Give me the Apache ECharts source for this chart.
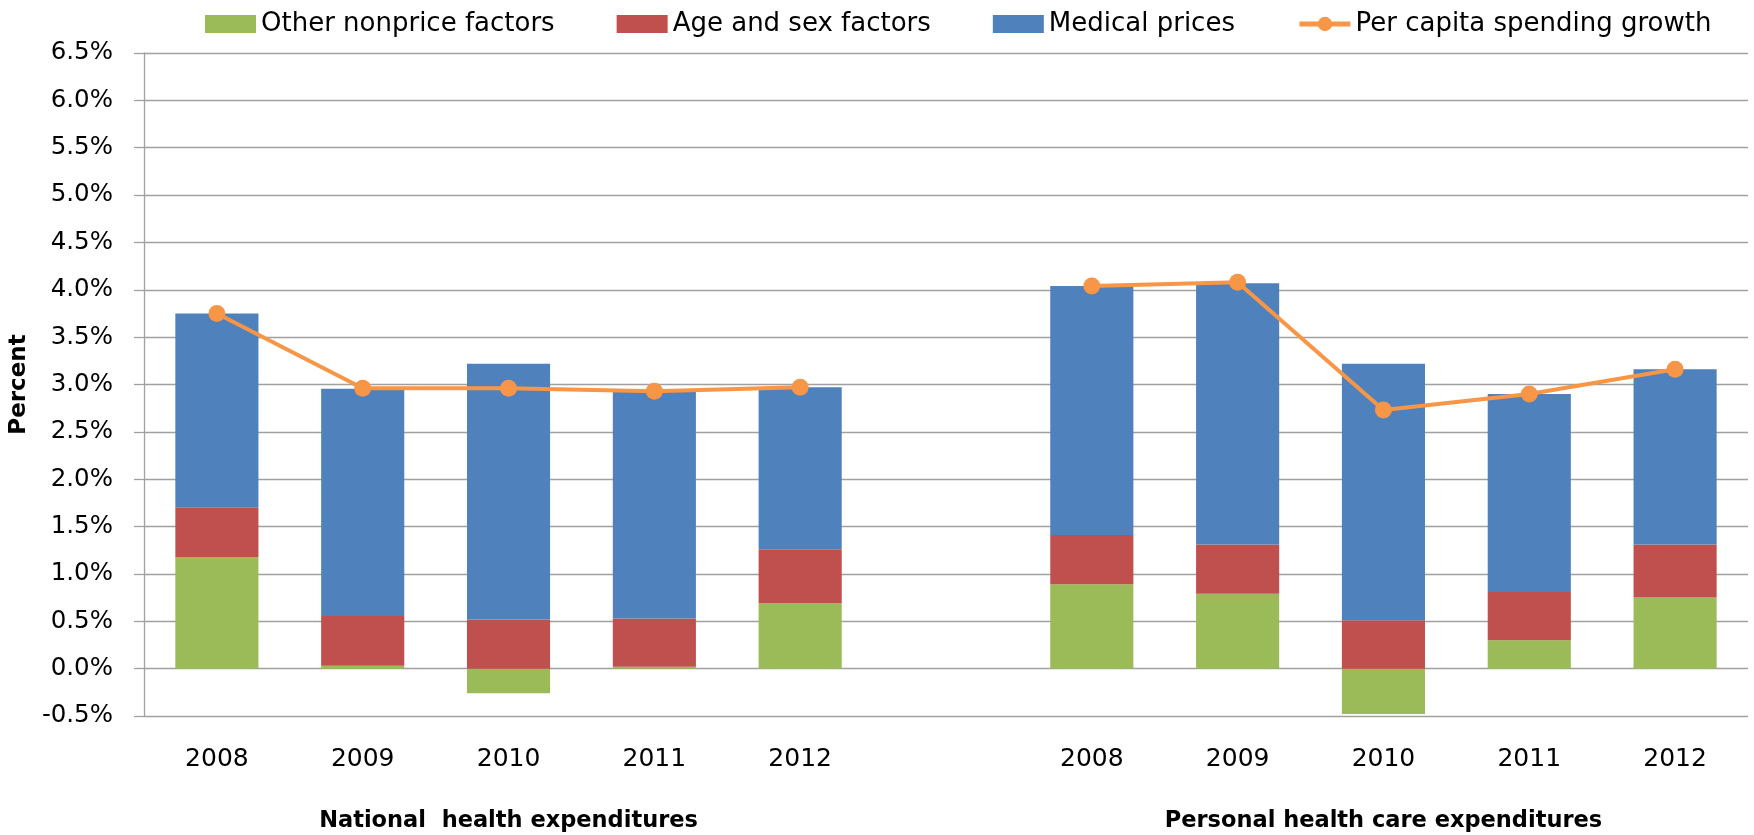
<!DOCTYPE html>
<html>
<head>
<meta charset="utf-8">
<script src="https://cdn.jsdelivr.net/npm/echarts@6/dist/echarts.min.js"></script>
<style>
html,body{margin:0;padding:0;background:#fff;}
#chart{width:1754px;height:835px;}
</style>
</head>
<body>
<div id="chart"></div>
<script>
// Tick labels / categories
const years = ['2008', '2009', '2010', '2011', '2012'];
const groupNames = ['National  health expenditures', 'Personal health care expenditures'];

// National health expenditures (percent)
const nheOther = [1.18, 0.03, -0.26, 0.02, 0.69];
const nheAgeSex = [0.52, 0.525, 0.52, 0.51, 0.57];
const nhePrices = [2.05, 2.40, 2.70, 2.41, 1.71];
const nheGrowth = [3.75, 2.96, 2.96, 2.93, 2.97];

// Personal health care expenditures (percent)
const phcOther = [0.89, 0.79, -0.48, 0.30, 0.75];
const phcAgeSex = [0.52, 0.52, 0.51, 0.51, 0.56];
const phcPrices = [2.63, 2.76, 2.71, 2.09, 1.85];
const phcGrowth = [4.04, 4.08, 2.73, 2.90, 3.16];

// y-axis ticks
const yMin = -0.5, yMax = 6.5, yStep = 0.5;

// build combined category axis with an empty gap slot
const categories = years.concat(['']).concat(years);
const join = (a, b) => a.concat([null]).concat(b);
const groupLabels = categories.map((c, i) => i === 2 ? groupNames[0] : (i === 8 ? groupNames[1] : ''));

const FONT = 'DejaVu Sans';
const chart = echarts.init(document.getElementById('chart'));
chart.setOption({
  animation: false,
  backgroundColor: '#ffffff',
  textStyle: { fontFamily: FONT, color: '#000' },
  legend: {
    top: 6,
    left: 200,
    itemWidth: 51,
    itemHeight: 18,
    itemGap: 62,
    textStyle: { fontFamily: FONT, fontSize: 26, color: '#000' },
    data: [
      { name: 'Other nonprice factors', icon: 'rect' },
      { name: 'Age and sex factors', icon: 'rect' },
      { name: 'Medical prices', icon: 'rect' },
      { name: 'Per capita spending growth', lineStyle: { width: 5 } }
    ]
  },
  grid: { left: 141, right: 6, top: 53, bottom: 119, containLabel: false },
  xAxis: [
    {
      type: 'category',
      data: categories,
      position: 'bottom',
      axisLine: { show: false, onZero: false },
      axisTick: { show: false },
      splitLine: { show: false },
      axisLabel: { interval: 0, margin: 31, fontSize: 25, fontFamily: FONT, color: '#000' }
    },
    {
      type: 'category',
      data: groupLabels,
      position: 'bottom',
      axisLine: { show: false, onZero: false },
      axisTick: { show: false },
      splitLine: { show: false },
      axisLabel: { interval: 0, margin: 94, fontSize: 22.5, fontWeight: 'bold', fontFamily: FONT, color: '#000' }
    }
  ],
  yAxis: {
    type: 'value',
    min: yMin,
    max: yMax,
    interval: yStep,
    name: 'Percent',
    nameLocation: 'middle',
    nameRotate: 90,
    nameGap: 104,
    nameTextStyle: { fontFamily: FONT, fontSize: 23, fontWeight: 'bold', color: '#000' },
    axisLine: { show: true, lineStyle: { color: '#a0a0a0', width: 1.3 } },
    axisTick: { show: true, length: 10, lineStyle: { color: '#a0a0a0', width: 1.3 } },
    splitLine: { show: true, lineStyle: { color: '#a0a0a0', width: 1.3 } },
    axisLabel: {
      margin: 31, fontSize: 24.5, fontFamily: FONT, color: '#000',
      formatter: v => v.toFixed(1) + '%'
    }
  },
  series: [
    {
      name: 'Other nonprice factors', type: 'bar', stack: 'total',
      barCategoryGap: '43%',
      itemStyle: { color: '#9BBB59' },
      data: join(nheOther, phcOther)
    },
    {
      name: 'Age and sex factors', type: 'bar', stack: 'total',
      barCategoryGap: '43%',
      itemStyle: { color: '#C0504D' },
      data: join(nheAgeSex, phcAgeSex)
    },
    {
      name: 'Medical prices', type: 'bar', stack: 'total',
      barCategoryGap: '43%',
      itemStyle: { color: '#4F81BD' },
      data: join(nhePrices, phcPrices)
    },
    {
      name: 'Per capita spending growth', type: 'line',
      symbol: 'circle', symbolSize: 17,
      connectNulls: false,
      lineStyle: { color: '#F79646', width: 4 },
      itemStyle: { color: '#F79646' },
      data: join(nheGrowth, phcGrowth),
      z: 5
    }
  ]
});
</script>
</body>
</html>
